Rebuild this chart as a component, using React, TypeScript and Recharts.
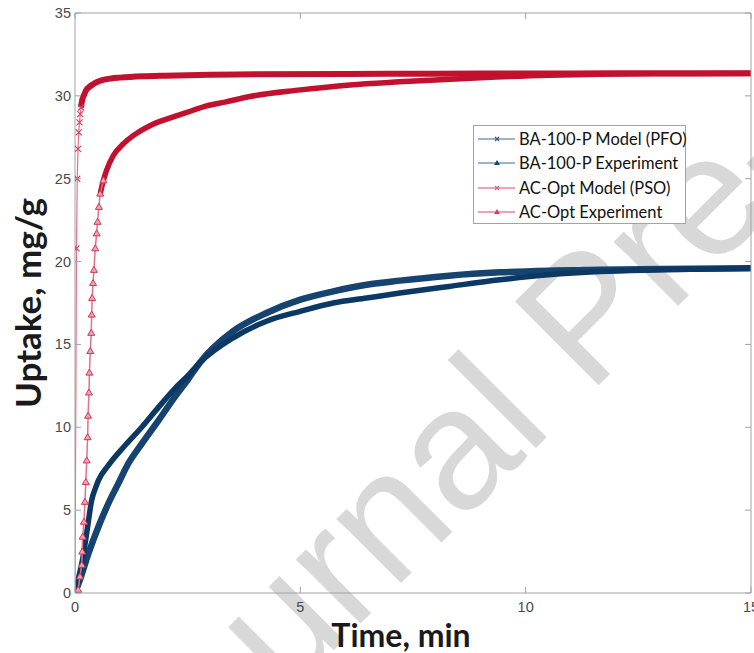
import { LineChart, Line, XAxis, YAxis, Legend, Label } from 'recharts';

// AC-Opt, pseudo-second-order model (x markers)
const acModelTime = [0, 0.033, 0.05, 0.067, 0.083, 0.1, 0.117, 0.133, 0.15, 0.17, 0.2, 0.25, 0.3, 0.4, 0.5, 0.6, 0.8, 1.0, 1.5, 2.0, 3.0, 4.0, 6.0, 8.0, 10.0, 12.0, 15.0];
const acModelUptake = [0, 20.8, 25.0, 26.8, 27.8, 28.4, 28.9, 29.3, 29.6, 29.85, 30.05, 30.35, 30.5, 30.7, 30.85, 30.95, 31.05, 31.1, 31.18, 31.22, 31.27, 31.3, 31.32, 31.34, 31.35, 31.36, 31.37];

// AC-Opt, experiment (triangles)
const acExpTime = [0, 0.07, 0.11, 0.15, 0.16, 0.17, 0.2, 0.22, 0.24, 0.26, 0.28, 0.29, 0.31, 0.32, 0.34, 0.36, 0.37, 0.38, 0.4, 0.42, 0.45, 0.48, 0.5, 0.53, 0.56, 0.63, 0.7, 0.85, 1.07, 1.29, 1.66, 2.03, 2.48, 2.92, 3.37, 3.85, 5.0, 6.1, 7.2, 9.0, 10.5, 11.65, 13.0, 15.0];
const acExpUptake = [0, 0.2, 1.0, 1.7, 2.5, 3.4, 4.3, 5.5, 6.7, 8.0, 9.4, 10.7, 12.1, 13.3, 14.6, 15.7, 16.8, 17.8, 18.7, 19.5, 20.8, 21.7, 22.4, 23.3, 24.1, 24.9, 25.5, 26.4, 27.1, 27.6, 28.2, 28.6, 29.0, 29.4, 29.65, 29.95, 30.36, 30.66, 30.85, 31.1, 31.25, 31.3, 31.33, 31.35];

// BA-100-P, pseudo-first-order model (x markers)
const baModelTime = [0, 0.11, 0.3, 0.52, 0.74, 0.96, 1.18, 1.48, 1.85, 2.22, 2.51, 2.77, 3.51, 4.25, 5.0, 5.73, 6.47, 7.21, 8.3, 9.43, 10.5, 11.65, 13.0, 15.0];
const baModelUptake = [0, 0.8, 2.4, 4.0, 5.4, 6.6, 7.8, 9.0, 10.4, 11.85, 12.9, 13.9, 15.8, 16.9, 17.7, 18.2, 18.6, 18.85, 19.15, 19.35, 19.45, 19.5, 19.55, 19.6];

// BA-100-P, experiment (triangles)
const baExpTime = [0, 0.07, 0.18, 0.28, 0.37, 0.45, 0.52, 0.74, 1.11, 1.48, 1.85, 2.22, 2.5, 2.77, 3.51, 4.25, 5.0, 5.73, 6.47, 7.21, 8.3, 9.43, 10.5, 11.65, 13.0, 15.0];
const baExpUptake = [0, 0.8, 2.2, 4.0, 5.6, 6.3, 6.8, 7.7, 8.9, 10.0, 11.2, 12.35, 13.1, 13.9, 15.4, 16.4, 17.0, 17.5, 17.8, 18.1, 18.5, 18.9, 19.2, 19.4, 19.5, 19.6];

const seriesNames = ['BA-100-P Model (PFO)', 'BA-100-P Experiment', 'AC-Opt Model (PSO)', 'AC-Opt Experiment'];
const xTicks = [0, 5, 10, 15];
const yTicks = [0, 5, 10, 15, 20, 25, 30, 35];

const toRows = (time: number[], uptake: number[]) => time.map((t, i) => ({ t, u: uptake[i] }));

const baModel = toRows(baModelTime, baModelUptake);
const baExp = toRows(baExpTime, baExpUptake);
const acModel = toRows(acModelTime, acModelUptake);
const acExp = toRows(acExpTime, acExpUptake);

const BLUE = '#0b3963';
const BLUE_MODEL = '#16436f';
const RED = '#c2102f';
const PINK = '#e3718a';
const AXIS = '#a3a3a3';
const TICK_TEXT = '#4a4a4a';
const TICK_FONT = "'Liberation Sans', Arial, sans-serif";
const LABEL_FONT = "Lato, 'Open Sans', sans-serif";

const crossDot = (color: string) => (p: any) => {
  const { cx, cy, index } = p;
  if (cx == null || cy == null) return <g key={index} />;
  const s = 3;
  return (
    <path
      key={index}
      d={`M${cx - s},${cy - s}L${cx + s},${cy + s}M${cx - s},${cy + s}L${cx + s},${cy - s}`}
      stroke={color}
      strokeWidth={1.2}
    />
  );
};

const triDot = (color: string) => (p: any) => {
  const { cx, cy, index } = p;
  if (cx == null || cy == null) return <g key={index} />;
  return (
    <path
      key={index}
      d={`M${cx},${cy - 3.5}L${cx + 3.5},${cy + 2.5}L${cx - 3.5},${cy + 2.5}Z`}
      fill="#f0a3b3"
      stroke={color}
      strokeWidth={1}
    />
  );
};

const LeftTick = (props: any) => {
  const { x, y, payload } = props;
  return (
    <g>
      <line x1={x} y1={y} x2={x + 6} y2={y} stroke={AXIS} />
      <text x={x - 4} y={y} dy={5} textAnchor="end" fill={TICK_TEXT} fontSize={14.5} fontFamily={TICK_FONT}>
        {payload.value}
      </text>
    </g>
  );
};

const BottomTick = (props: any) => {
  const { x, y, payload } = props;
  return (
    <g>
      <line x1={x} y1={y} x2={x} y2={y - 6} stroke={AXIS} />
      <text x={x} y={y + 19} textAnchor="middle" fill={TICK_TEXT} fontSize={14.5} fontFamily={TICK_FONT}>
        {payload.value}
      </text>
    </g>
  );
};

const TopTick = (props: any) => {
  const { x, y } = props;
  return <line x1={x} y1={y} x2={x} y2={y + 6} stroke={AXIS} />;
};

const RightTick = (props: any) => {
  const { x, y } = props;
  return <line x1={x} y1={y} x2={x - 6} y2={y} stroke={AXIS} />;
};

const legendStyles = [
  { line: '#8199b4', marker: 'cross', color: '#2f5a85' },
  { line: '#8199b4', marker: 'tri', color: '#1d4673' },
  { line: '#e9849a', marker: 'cross', color: '#e0607c' },
  { line: '#e9849a', marker: 'tri', color: '#d53f5e' },
];

const LegendBox = () => (
  <div
    style={{
      border: `1px solid ${AXIS}`,
      background: '#fff',
      width: 211,
      height: 96,
      paddingTop: 1,
      boxSizing: 'content-box',
    }}
  >
    {seriesNames.map((name, i) => {
      const st = legendStyles[i];
      return (
        <div key={name} style={{ display: 'flex', alignItems: 'center', height: 24.3 }}>
          <svg width={45} height={12} style={{ flex: 'none' }}>
            <line x1={4} y1={6} x2={41} y2={6} stroke={st.line} strokeWidth={1.5} />
            {st.marker === 'cross' ? (
              <path d="M21,4L25,8M21,8L25,4" stroke={st.color} strokeWidth={1.2} />
            ) : (
              <path d="M23,3L26,8L20,8Z" fill={st.color} />
            )}
          </svg>
          <span style={{ fontFamily: LABEL_FONT, fontSize: 16.5, color: '#111', whiteSpace: 'nowrap' }}>{name}</span>
        </div>
      );
    })}
  </div>
);

export default function App() {
  return (
    <div style={{ position: 'absolute', left: 0, top: 0, width: 754, height: 653, background: '#fff', overflow: 'hidden' }}>
      <svg width={754} height={653} style={{ position: 'absolute', left: 0, top: 0 }}>
        <text
          transform="translate(156,828) rotate(-45)"
          fontSize={172}
          fontFamily="'Liberation Sans', Arial, sans-serif"
          fill="#d8d8d8"
        >
          Journal Pre-proof
        </text>
      </svg>
      <div style={{ position: 'absolute', left: 0, top: 0 }}>
        <LineChart width={754} height={653} margin={{ top: 0, right: 0, bottom: 0, left: 0 }}>
          <XAxis
            xAxisId="top"
            orientation="top"
            type="number"
            dataKey="t"
            domain={[0, 15]}
            ticks={xTicks}
            interval={0}
            height={13}
            tickSize={0}
            tickMargin={0}
            tick={<TopTick />}
            axisLine={{ stroke: AXIS }}
            allowDataOverflow
          />
          <XAxis
            type="number"
            dataKey="t"
            domain={[0, 15]}
            ticks={xTicks}
            interval={0}
            height={60}
            tickSize={0}
            tickMargin={0}
            tick={<BottomTick />}
            axisLine={{ stroke: AXIS }}
            allowDataOverflow
          >
            <Label
              position="insideBottom"
              content={(p: any) => {
                const vb = p.viewBox || { x: 75, y: 593, width: 676, height: 60 };
                return (
                  <text
                    x={vb.x + vb.width / 2 - 12}
                    y={vb.y + vb.height - 6}
                    textAnchor="middle"
                    fontFamily={LABEL_FONT}
                    fontWeight={700}
                    fontSize={32}
                    fill="#1a1a1a"
                  >
                    Time, min
                  </text>
                );
              }}
            />
          </XAxis>
          <YAxis
            type="number"
            domain={[0, 35]}
            ticks={yTicks}
            interval={0}
            width={75}
            tickSize={0}
            tickMargin={0}
            tick={<LeftTick />}
            axisLine={{ stroke: AXIS }}
            allowDataOverflow
          >
            <Label
              position="insideLeft"
              content={(p: any) => {
                const vb = p.viewBox || { x: 0, y: 13, width: 75, height: 580 };
                const cy = vb.y + vb.height / 2;
                return (
                  <text
                    x={41}
                    y={cy}
                    transform={`rotate(-90, 41, ${cy})`}
                    textAnchor="middle"
                    fontFamily={LABEL_FONT}
                    fontWeight={700}
                    fontSize={35}
                    fill="#1a1a1a"
                  >
                    Uptake, mg/g
                  </text>
                );
              }}
            />
          </YAxis>
          <YAxis
            yAxisId="right"
            orientation="right"
            type="number"
            domain={[0, 35]}
            ticks={yTicks}
            interval={0}
            width={3}
            tickSize={0}
            tickMargin={0}
            tick={<RightTick />}
            axisLine={{ stroke: AXIS }}
            allowDataOverflow
          />
          <Legend
            layout="vertical"
            align="center"
            verticalAlign="middle"
            wrapperStyle={{ left: 473, top: 125, width: 213, height: 98 }}
            content={() => <LegendBox />}
          />

          <Line data={baModel} dataKey="u" type="monotone" stroke={BLUE_MODEL} strokeWidth={6.5} dot={false} activeDot={false} isAnimationActive={false} legendType="none" />
          <Line data={baExp} dataKey="u" type="monotone" stroke={BLUE} strokeWidth={5.5} dot={false} activeDot={false} isAnimationActive={false} legendType="none" />

          <Line data={acModel.filter((r) => r.t >= 0.12)} dataKey="u" type="monotone" stroke={RED} strokeWidth={6} dot={false} activeDot={false} isAnimationActive={false} legendType="none" />
          <Line data={acModel.filter((r) => r.t <= 0.133)} dataKey="u" type="linear" stroke={PINK} strokeWidth={1.2} dot={crossDot('#d9405f')} activeDot={false} isAnimationActive={false} legendType="none" />

          <Line data={acExp.filter((r) => r.t >= 0.56)} dataKey="u" type="monotone" stroke={RED} strokeWidth={5.5} dot={false} activeDot={false} isAnimationActive={false} legendType="none" />
          <Line data={acExp.filter((r) => r.t <= 0.63)} dataKey="u" type="linear" stroke={PINK} strokeWidth={1.5} dot={triDot('#d23556')} activeDot={false} isAnimationActive={false} legendType="none" />
        </LineChart>
      </div>
    </div>
  );
}
